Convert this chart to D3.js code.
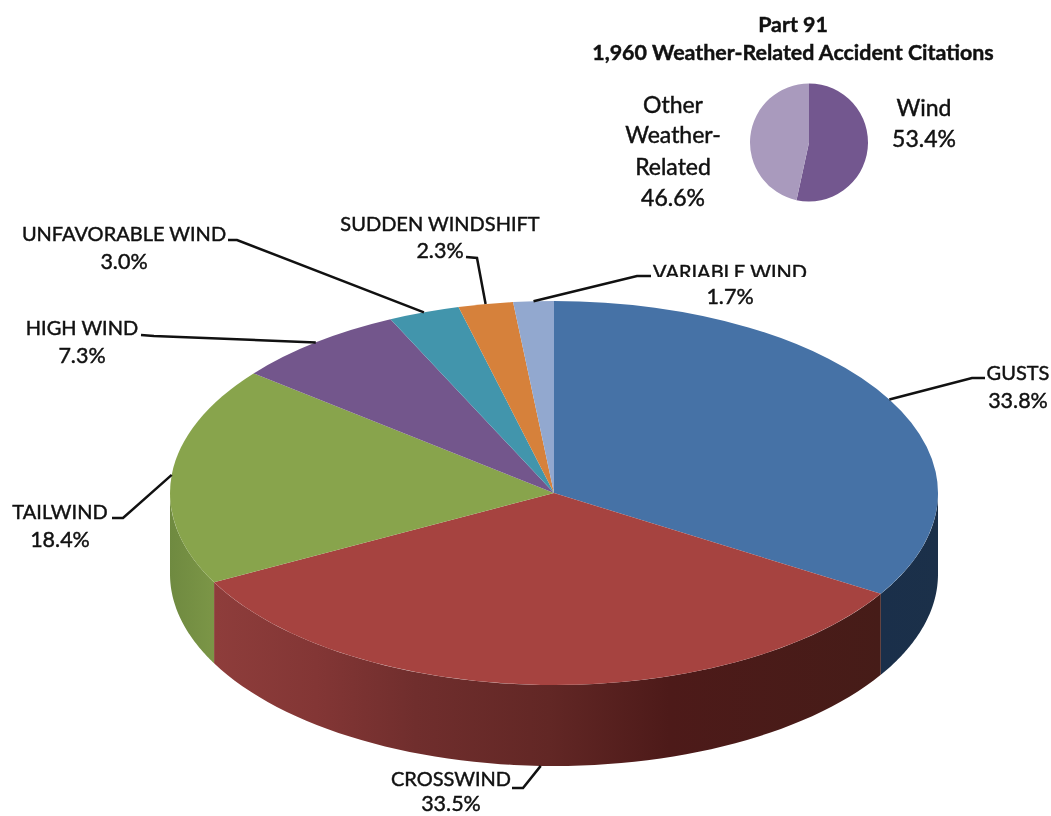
<!DOCTYPE html>
<html lang="en">
 <head>
  <meta charset="UTF-8">
  <title>Part 91 wind citations</title>
  <style>
   html, body { margin: 0; padding: 0; background: #fff; overflow: hidden; }
   svg { display: block; }
   text { font-family: Lato, "Open Sans", sans-serif; fill: #111; text-anchor: middle; stroke: #111; stroke-width: 0.45px; filter: blur(0.35px); }
  </style>
 </head>
 <body>
<svg width="1051" height="816"></svg>
<script src="https://d3js.org/d3.v7.min.js"></script>
<script>

var windNames = ["GUSTS", "CROSSWIND", "TAILWIND", "HIGH WIND", "UNFAVORABLE WIND", "SUDDEN WINDSHIFT", "VARIABLE WIND"];
var windValues = [33.8, 33.5, 18.4, 7.3, 3.0, 2.3, 1.7];
var windColors = ["#4672a6", "#a64340", "#88a44c", "#73568c", "#4295ac", "#d6813b", "#92a8cf"];

var partNames = ["Wind", "Other"];
var partValues = [53.4, 46.6];
var partColors = ["#73578f", "#a99abd"];

var titleLines = ["Part 91", "1,960 Weather-Related Accident Citations"];

// layout of the big pie, a flattened circle
var cx = 554, cy = 493, rx = 384, ry = 192, depth = 81;
var smallX = 809, smallY = 142.5, smallR = 59;

// label centre, first baseline, then the elbow and the end of the leader
var labelPlaces = [
  { x: 1018, y: 380, elbow: [972, 378], end: [985, 378] },
  { x: 451, y: 786, elbow: [523, 788], end: [512, 788], second: 811 },
  { x: 60, y: 519, elbow: [123, 518], end: [112, 518] },
  { x: 82, y: 335, elbow: [154, 336], end: [141, 335] },
  { x: 124, y: 241, elbow: [237, 240], end: [228, 240] },
  { x: 440, y: 231, elbow: [477, 258], end: [466, 257], second: 258 },
  { x: 730, y: 279, elbow: [637, 276], end: [651, 276], second: 304 }
];

var svg = d3.select("svg");
var defs = svg.append("defs");

var slices = d3.pie().sort(null).startAngle(0).endAngle(2 * Math.PI)(windValues);

// gradients on the side wall
function wallGradient(id, x1, x2, stops) {
  var g = defs.append("linearGradient").attr("id", id)
    .attr("gradientUnits", "userSpaceOnUse")
    .attr("x1", x1).attr("x2", x2).attr("y1", 0).attr("y2", 0);
  stops.forEach(function (s) {
    g.append("stop").attr("offset", s[0]).attr("stop-color", s[1]);
  });
}
wallGradient("wall0", 882, 938, [[0, "#1a2f4a"], [1, "#1b3049"]]);
wallGradient("wall1", 216, 882, [[0, "#8e3d3b"], [0.15, "#833635"], [0.3, "#702e2d"], [0.5, "#622725"], [0.68, "#4d1a19"], [1, "#461c18"]]);
wallGradient("wall2", 170, 216, [[0, "#6f8a40"], [1, "#7c9647"]]);

function px(a) { return cx + rx * Math.sin(a); }
function py(a) { return cy - ry * Math.cos(a); }

// side wall, only the front half of the rim can be seen
var frontFrom = Math.PI / 2, frontTo = 3 * Math.PI / 2;
var line = d3.line();

slices.forEach(function (s, i) {
  var a0 = Math.max(s.startAngle, frontFrom), a1 = Math.min(s.endAngle, frontTo);
  if (a1 <= a0) return;
  var steps = d3.range(0, 61).map(function (k) { return a0 + (a1 - a0) * k / 60; });
  var upper = steps.map(function (a) { return [px(a), py(a)]; });
  var lower = steps.slice().reverse().map(function (a) { return [px(a), py(a) + depth]; });
  svg.append("path")
    .attr("d", line(upper.concat(lower)) + "Z")
    .attr("fill", "url(#wall" + i + ")");
});

// top face
var arc = d3.arc().innerRadius(0).outerRadius(rx);
svg.append("g")
  .attr("transform", "translate(" + cx + "," + cy + ") scale(1," + (ry / rx) + ")")
  .selectAll("path")
  .data(slices)
  .enter().append("path")
  .attr("d", arc)
  .attr("fill", function (d, i) { return windColors[i]; });

// leaders start on the rim at the middle of each slice
slices.forEach(function (s, i) {
  var mid = (s.startAngle + s.endAngle) / 2;
  var isFront = Math.cos(mid) < -0.9;
  var start = [px(mid), py(mid) + (isFront ? depth : 0)];
  var p = labelPlaces[i];
  svg.append("path")
    .attr("d", line([start, p.elbow, p.end]))
    .attr("fill", "none")
    .attr("stroke", "#111")
    .attr("stroke-width", 2.5);
});

// the VARIABLE WIND label has its lower edge cut off in the reference
defs.append("clipPath").attr("id", "cutLabel")
  .append("rect").attr("x", 640).attr("y", 255).attr("width", 200).attr("height", 22);

windNames.forEach(function (name, i) {
  var p = labelPlaces[i];
  var t = svg.append("text").attr("x", p.x).attr("y", p.y).attr("font-size", 20).text(name);
  if (i == 6) t.attr("clip-path", "url(#cutLabel)");
  svg.append("text")
    .attr("x", p.x)
    .attr("y", p.second || p.y + 27.5)
    .attr("font-size", 21.5)
    .text(windValues[i].toFixed(1) + "%");
});

// small pie
var smallSlices = d3.pie().sort(null).startAngle(0).endAngle(2 * Math.PI)(partValues);
var smallArc = d3.arc().innerRadius(0).outerRadius(smallR);
svg.append("g")
  .attr("transform", "translate(" + smallX + "," + smallY + ")")
  .selectAll("path")
  .data(smallSlices)
  .enter().append("path")
  .attr("d", smallArc)
  .attr("fill", function (d, i) { return partColors[i]; });

svg.append("text").attr("x", 793).attr("y", 32).attr("font-size", 21.4).attr("font-weight", 700).text(titleLines[0]);
svg.append("text").attr("x", 793).attr("y", 60).attr("font-size", 21.4).attr("font-weight", 700).text(titleLines[1]);

var otherLines = ["Other", "Weather-", "Related", partValues[1].toFixed(1) + "%"];
var otherBase = [113, 143, 175, 206];
otherLines.forEach(function (l, i) {
  svg.append("text").attr("x", 673).attr("y", otherBase[i]).attr("font-size", 23).text(l);
});
svg.append("text").attr("x", 924).attr("y", 116).attr("font-size", 23).text(partNames[0]);
svg.append("text").attr("x", 924).attr("y", 147).attr("font-size", 23).text(partValues[0].toFixed(1) + "%");

</script>
 </body>
</html>
